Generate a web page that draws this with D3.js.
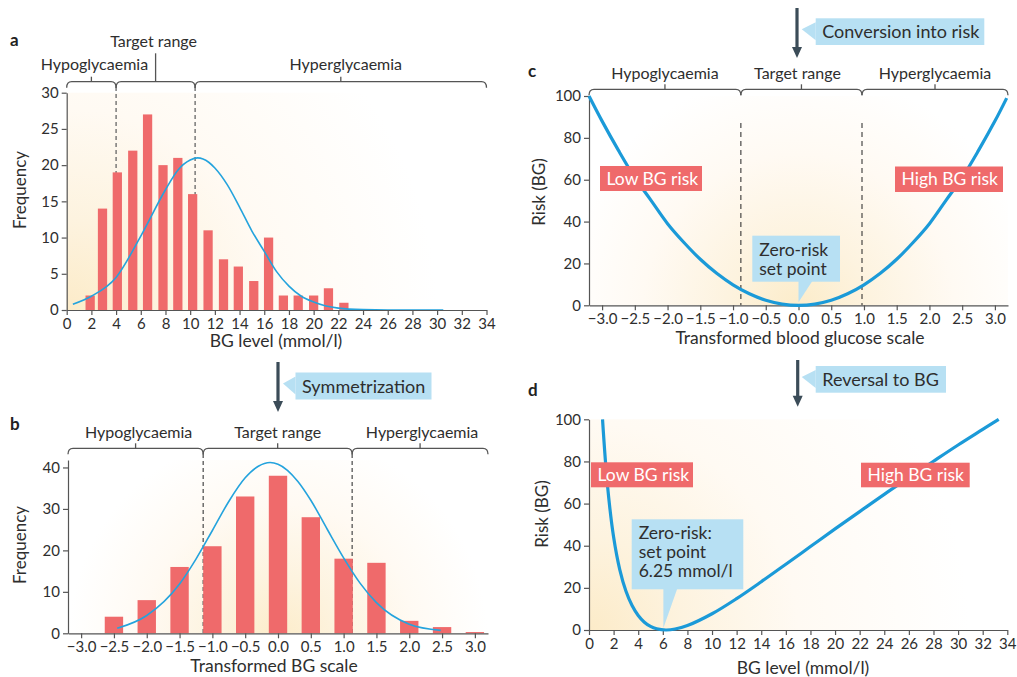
<!DOCTYPE html>
<html>
<head>
<meta charset="utf-8">
<script src="https://cdn.jsdelivr.net/npm/d3@7"></script>
<style>
  body { margin: 0; background: #fff; }
  svg { display: block; }
</style>
</head>
<body>
<svg id="fig" width="1017" height="677"></svg>
<script>
// ---------- data ----------
// a: raw BG histogram (mmol/l) with fitted normal curve
const binsA = [1.9, 2.9, 4.1, 5.35, 6.55, 7.8, 9.0, 10.2, 11.45, 12.7, 13.9, 15.15, 16.35, 17.55, 18.75, 20.0, 21.2, 22.45];
const freqA = [2, 14, 19, 22, 27, 20, 21, 16, 11, 7, 6, 4, 10, 2, 2, 2, 3, 1];
const fitAx = [0.5, 2, 4, 6, 8, 9, 10, 10.6, 11.5, 12, 13, 14, 15, 16, 17, 18, 19, 20, 21, 22, 24, 26, 30.5];
const fitAy = [0.8, 1.9, 4.5, 10.2, 16.6, 19.3, 20.7, 21, 20.4, 19.6, 17.3, 14.2, 10.9, 8.1, 5.3, 3.3, 1.9, 1.1, 0.55, 0.26, 0.05, 0, 0];
const zonesA = [0, 4.0, 10.4, 34];

// b: symmetrized histogram with normal fit
const binsB = [-2.5, -2.0, -1.5, -1.0, -0.5, 0.0, 0.5, 1.0, 1.5, 2.0, 2.5, 3.0];
const freqB = [4, 8, 16, 21, 33, 38, 28, 18, 17, 3, 1.5, 0.3];
const fitBx = [-2.45, -2.0, -1.5, -1.25, -1.0, -0.75, -0.5, -0.3, -0.12, 0.0, 0.3, 0.5, 0.75, 1.0, 1.25, 1.5, 2.0, 2.48];
const fitBy = [1.2, 4.3, 11.9, 17.9, 24.8, 31.8, 37.5, 40.3, 41.2, 40.8, 36.7, 32.1, 25.1, 18.2, 12.1, 7.4, 2.2, 0.7];
const zonesB = [-3.2, -1.14, 1.13, 3.2];

// c: risk on the transformed scale
const riskCx = [-3.2, -3.0, -2.75, -2.5, -2.25, -2.0, -1.75, -1.5, -1.25, -1.0, -0.75, -0.5, -0.25, 0, 0.25, 0.5, 0.75, 1.0, 1.25, 1.5, 1.75, 2.0, 2.25, 2.5, 2.75, 3.0, 3.18];
const riskCy = [100, 88, 74, 61, 50, 39, 30, 22, 15.3, 9.8, 5.5, 2.4, 0.6, 0, 0.6, 2.4, 5.5, 9.8, 15.3, 22, 30, 39, 50, 61, 74, 88, 99];
const zonesC = [-3.2, -0.88, 0.97, 3.2];

// d: risk back on the BG scale (mmol/l)
const riskDx = [1.1, 1.5, 2, 2.5, 3, 3.5, 4, 4.5, 5, 5.5, 6.25, 7, 8, 10, 12, 14, 16, 18, 20, 22, 24, 26, 28, 30, 32, 33.3];
const riskDy = [100, 68.8, 44.1, 28.7, 18.5, 11.6, 6.9, 3.7, 1.7, 0.6, 0, 0.45, 2.1, 7.7, 14.9, 22.9, 31.2, 39.6, 48.0, 56.2, 64.4, 72.3, 80.1, 87.8, 95.2, 100];
const setPoint = 6.25;

// tick values
const ticksBG = [0, 2, 4, 6, 8, 10, 12, 14, 16, 18, 20, 22, 24, 26, 28, 30, 32, 34];
const ticksT = [-3.0, -2.5, -2.0, -1.5, -1.0, -0.5, 0.0, 0.5, 1.0, 1.5, 2.0, 2.5, 3.0];
const ticksFreqA = [0, 5, 10, 15, 20, 25, 30];
const ticksFreqB = [0, 10, 20, 30, 40];
const ticksRisk = [0, 20, 40, 60, 80, 100];
const zoneLabels = ["Hypoglycaemia", "Target range", "Hyperglycaemia"];

// ---------- style ----------
const FONT = "Lato, 'Open Sans', sans-serif";
const TXT = "#2e2e2e";
const AX = "#555";
const BAR = "#ef6a6b";
const CURVE = "#24a3dd";
const CURVE2 = "#1b9ad8";
const CALLOUT = "#b7e0f3";
const ARROW = "#3b4c58";
const ZONE_SIZE = 16;
const TITLE_SIZE = 17.5;

const svg = d3.select("#fig");
const defs = svg.append("defs");

function radial(id, cx, cy, r, stops) {
  const gr = defs.append("radialGradient").attr("id", id)
    .attr("gradientUnits", "userSpaceOnUse")
    .attr("cx", cx).attr("cy", cy).attr("r", r);
  stops.forEach(s => gr.append("stop").attr("offset", s[0]).attr("stop-color", s[1]));
}
const warmStops = [[0, "#fcebc8"], [0.25, "#fdf3df"], [0.55, "#fffaf3"], [1, "#ffffff"]];

function styleAxis(g) {
  g.attr("font-family", FONT).attr("font-size", 15);
  g.select(".domain").attr("stroke", AX).attr("stroke-width", 1.2);
  g.selectAll(".tick line").attr("stroke", AX).attr("stroke-width", 1.2);
  g.selectAll(".tick text").attr("fill", TXT);
}

function text(x, y, s, opts = {}) {
  return svg.append("text").attr("x", x).attr("y", y).text(s)
    .attr("font-family", FONT).attr("font-size", opts.size || 15)
    .attr("font-weight", opts.weight || "normal")
    .attr("fill", opts.fill || TXT)
    .attr("text-anchor", opts.anchor || "start");
}

// curly-ish bracket spanning [x0, x1] at height y with a small centre tick
function brace(x0, x1, y, tickTop) {
  const r = 5;
  svg.append("path")
    .attr("d", `M${x0},${y + 6} Q${x0},${y} ${x0 + r},${y} H${x1 - r} Q${x1},${y} ${x1},${y + 6}`)
    .attr("fill", "none").attr("stroke", AX).attr("stroke-width", 1.3);
  const xc = (x0 + x1) / 2;
  svg.append("line").attr("x1", xc).attr("x2", xc).attr("y1", y).attr("y2", tickTop === undefined ? y - 5 : tickTop)
    .attr("stroke", AX).attr("stroke-width", 1.3);
  return xc;
}

function arrow(x, y0, y1) {
  svg.append("line").attr("x1", x).attr("x2", x).attr("y1", y0).attr("y2", y1 - 8)
    .attr("stroke", ARROW).attr("stroke-width", 3.2);
  svg.append("path").attr("d", `M${x - 5},${y1 - 11} L${x + 5},${y1 - 11} L${x},${y1} Z`).attr("fill", ARROW);
}

// label box with a pointer on its left side
function sideCallout(bx, by, bw, bh, tipX, label) {
  svg.append("path")
    .attr("d", `M${bx},${by + 4} L${tipX},${by + 11} L${bx},${by + 22} Z`).attr("fill", CALLOUT);
  svg.append("rect").attr("x", bx).attr("y", by).attr("width", bw).attr("height", bh).attr("fill", CALLOUT);
  text(bx + 6.5, by + bh / 2 + 6.5, label, { size: 18 });
}

// label box with a pointer hanging from its bottom edge to (tx, ty)
function downCallout(bx, by, bw, bh, tx, ty, lines) {
  svg.append("rect").attr("x", bx).attr("y", by).attr("width", bw).attr("height", bh).attr("fill", CALLOUT);
  svg.append("path")
    .attr("d", `M${tx},${by + bh - 1} L${tx + 14},${by + bh - 1} L${tx},${ty} Z`).attr("fill", CALLOUT);
  lines.forEach((l, i) => text(bx + 7, by + 20 + i * 19, l, { size: 17.5 }));
}

function riskBox(x, y, w, h, label) {
  svg.append("rect").attr("x", x).attr("y", y).attr("width", w).attr("height", h).attr("fill", BAR);
  text(x + 6.5, y + h / 2 + 6, label, { size: 17.5, fill: "#fff" });
}

// ================= Panel a =================
{
  const x = d3.scaleLinear().domain([0, 34]).range([66.7, 486.5]);
  const y = d3.scaleLinear().domain([0, 30]).range([310, 92.7]);

  radial("gA", 67, 312, 370, warmStops);
  svg.append("rect").attr("x", x(0)).attr("y", y(30)).attr("width", x(34) - x(0)).attr("height", y(0) - y(30))
    .attr("fill", "url(#gA)");

  zonesA.slice(1, 3).forEach(v => svg.append("line")
    .attr("x1", x(v)).attr("x2", x(v)).attr("y1", 87).attr("y2", y(0))
    .attr("stroke", "#666").attr("stroke-width", 1.3).attr("stroke-dasharray", "4,3"));

  const bw = 0.75;
  svg.append("g").selectAll("rect").data(binsA).join("rect")
    .attr("x", (d) => x(d - bw / 2)).attr("width", x(bw) - x(0))
    .attr("y", (d, i) => y(freqA[i])).attr("height", (d, i) => y(0) - y(freqA[i]))
    .attr("fill", BAR);

  svg.append("path").datum(fitAx.map((v, i) => [v, fitAy[i]]))
    .attr("d", d3.line().x(d => x(d[0])).y(d => y(d[1])).curve(d3.curveMonotoneX))
    .attr("fill", "none").attr("stroke", CURVE).attr("stroke-width", 1.6);

  const gx = svg.append("g").attr("transform", `translate(0,${y(0)})`)
    .call(d3.axisBottom(x).tickValues(ticksBG).tickSize(5).tickPadding(3).tickSizeOuter(0));
  styleAxis(gx);
  const gy = svg.append("g").attr("transform", `translate(${x(0)},0)`)
    .call(d3.axisLeft(y).tickValues(ticksFreqA).tickSize(5).tickPadding(3).tickSizeOuter(0));
  styleAxis(gy);

  const by = 81.7;
  const c0 = brace(x(zonesA[0]), x(zonesA[1]), by);
  const c1 = brace(x(zonesA[1]), x(zonesA[2]), by, 53.3);
  const c2 = brace(x(zonesA[2]), x(zonesA[3]), by);
  text(c0 + 3, 70, zoneLabels[0], { anchor: "middle", size: ZONE_SIZE });
  text(c1 - 2, 47, zoneLabels[1], { anchor: "middle", size: ZONE_SIZE });
  text(c2 + 5, 70, zoneLabels[2], { anchor: "middle", size: ZONE_SIZE });

  text(10, 46, "a", { size: 17, weight: "bold", fill: "#222" });
  text(276, 347, "BG level (mmol/l)", { size: TITLE_SIZE, anchor: "middle" });
  text(0, 0, "Frequency", { size: 17, anchor: "middle" }).attr("transform", "translate(26,190) rotate(-90)");
}

// ================= Panel b =================
{
  const x = d3.scaleLinear().domain([-3.2, 3.2]).range([68, 488]);
  const y = d3.scaleLinear().domain([0, 41.8]).range([633.3, 460]);

  radial("gB", x(0), 640, 210, [[0, "#fcecc9"], [0.3, "#fdf3df"], [0.65, "#fffaf3"], [1, "#ffffff"]]);
  svg.append("rect").attr("x", x(-3.2)).attr("y", y(41.8)).attr("width", x(3.2) - x(-3.2)).attr("height", y(0) - y(41.8))
    .attr("fill", "url(#gB)");

  zonesB.slice(1, 3).forEach(v => svg.append("line")
    .attr("x1", x(v)).attr("x2", x(v)).attr("y1", 454).attr("y2", y(0))
    .attr("stroke", "#555").attr("stroke-width", 1.3).attr("stroke-dasharray", "4,3"));

  const bw = 0.28;
  svg.append("g").selectAll("rect").data(binsB).join("rect")
    .attr("x", (d) => x(d - bw / 2)).attr("width", x(bw) - x(0))
    .attr("y", (d, i) => y(freqB[i])).attr("height", (d, i) => y(0) - y(freqB[i]))
    .attr("fill", BAR);

  svg.append("path").datum(fitBx.map((v, i) => [v, fitBy[i]]))
    .attr("d", d3.line().x(d => x(d[0])).y(d => y(d[1])).curve(d3.curveMonotoneX))
    .attr("fill", "none").attr("stroke", CURVE).attr("stroke-width", 1.6);

  const gx = svg.append("g").attr("transform", `translate(0,${y(0)})`)
    .call(d3.axisBottom(x).tickValues(ticksT).tickFormat(d3.format(".1f")).tickSize(5).tickPadding(3).tickSizeOuter(0));
  styleAxis(gx);
  const gy = svg.append("g").attr("transform", `translate(${x(-3.2)},0)`)
    .call(d3.axisLeft(y).tickValues(ticksFreqB).tickSize(5).tickPadding(3).tickSizeOuter(0));
  styleAxis(gy);

  const by = 448.3;
  const c0 = brace(x(zonesB[0]), x(zonesB[1]), by);
  const c1 = brace(x(zonesB[1]), x(zonesB[2]), by);
  const c2 = brace(x(zonesB[2]), x(zonesB[3]), by);
  text(c0 + 3, 438, zoneLabels[0], { anchor: "middle", size: ZONE_SIZE });
  text(c1, 438, zoneLabels[1], { anchor: "middle", size: ZONE_SIZE });
  text(c2 + 2, 438, zoneLabels[2], { anchor: "middle", size: ZONE_SIZE });

  // transition from panel a
  arrow(x(0), 362, 412);
  sideCallout(295.5, 372.5, 136, 27, 283, "Symmetrization");

  text(10, 430, "b", { size: 17, weight: "bold", fill: "#222" });
  text(274, 672, "Transformed BG scale", { size: TITLE_SIZE, anchor: "middle" });
  text(0, 0, "Frequency", { size: 17, anchor: "middle" }).attr("transform", "translate(26,545) rotate(-90)");
}

// ================= Panel c =================
{
  const x = d3.scaleLinear().domain([-3.2, 3.2]).range([589, 1008]);
  const y = d3.scaleLinear().domain([0, 100]).range([305.3, 96]);

  radial("gC", x(0), 310, 240, [[0, "#fcecc9"], [0.3, "#fdf3df"], [0.65, "#fffaf3"], [1, "#ffffff"]]);
  svg.append("rect").attr("x", x(-3.2)).attr("y", y(100)).attr("width", x(3.2) - x(-3.2)).attr("height", y(0) - y(100))
    .attr("fill", "url(#gC)");

  zonesC.slice(1, 3).forEach(v => svg.append("line")
    .attr("x1", x(v)).attr("x2", x(v)).attr("y1", 123).attr("y2", y(0))
    .attr("stroke", "#222").attr("stroke-width", 1).attr("stroke-dasharray", "5,4"));

  const gx = svg.append("g").attr("transform", `translate(0,${y(0)})`)
    .call(d3.axisBottom(x).tickValues(ticksT).tickFormat(d3.format(".1f")).tickSize(5).tickPadding(3).tickSizeOuter(0));
  styleAxis(gx);
  const gy = svg.append("g").attr("transform", `translate(${x(-3.2)},0)`)
    .call(d3.axisLeft(y).tickValues(ticksRisk).tickSize(5).tickPadding(3).tickSizeOuter(0));
  styleAxis(gy);

  svg.append("path").datum(riskCx.map((v, i) => [v, riskCy[i]]))
    .attr("d", d3.line().x(d => x(d[0])).y(d => y(d[1])).curve(d3.curveCatmullRom))
    .attr("fill", "none").attr("stroke", CURVE2).attr("stroke-width", 3.2);

  const by = 89.3;
  const c0 = brace(x(zonesC[0]), x(zonesC[1]), by);
  const c1 = brace(x(zonesC[1]), x(zonesC[2]), by);
  const c2 = brace(x(zonesC[2]), x(zonesC[3]), by);
  text(c0, 79, zoneLabels[0], { anchor: "middle", size: ZONE_SIZE });
  text(c1 - 4, 79, zoneLabels[1], { anchor: "middle", size: ZONE_SIZE });
  text(c2, 79, zoneLabels[2], { anchor: "middle", size: ZONE_SIZE });

  riskBox(600, 166, 102, 25, "Low BG risk");
  riskBox(895, 166.5, 108, 25.5, "High BG risk");
  downCallout(752.3, 235.7, 87.7, 46, x(0), y(0) - 3, ["Zero-risk", "set point"]);

  // transition from panel b
  arrow(x(0) - 1.5, 8, 58);
  sideCallout(815.7, 18.3, 168.6, 26.7, 801.7, "Conversion into risk");

  text(528, 77, "c", { size: 17, weight: "bold", fill: "#222" });
  text(800, 344, "Transformed blood glucose scale", { size: TITLE_SIZE, anchor: "middle" });
  text(0, 0, "Risk (BG)", { size: 17, anchor: "middle" }).attr("transform", "translate(545,192) rotate(-90)");
}

// ================= Panel d =================
{
  const x = d3.scaleLinear().domain([0, 34]).range([589, 1007.3]);
  const y = d3.scaleLinear().domain([0, 100]).range([630, 419.3]);

  radial("gD", x(0), 632, 380, warmStops);
  svg.append("rect").attr("x", x(0)).attr("y", y(100)).attr("width", x(34) - x(0)).attr("height", y(0) - y(100))
    .attr("fill", "url(#gD)");

  const gx = svg.append("g").attr("transform", `translate(0,${y(0)})`)
    .call(d3.axisBottom(x).tickValues(ticksBG).tickSize(5).tickPadding(3).tickSizeOuter(0));
  styleAxis(gx);
  const gy = svg.append("g").attr("transform", `translate(${x(0)},0)`)
    .call(d3.axisLeft(y).tickValues(ticksRisk).tickSize(5).tickPadding(3).tickSizeOuter(0));
  styleAxis(gy);

  svg.append("path").datum(riskDx.map((v, i) => [v, riskDy[i]]))
    .attr("d", d3.line().x(d => x(d[0])).y(d => y(d[1])).curve(d3.curveCatmullRom))
    .attr("fill", "none").attr("stroke", CURVE2).attr("stroke-width", 3.2);

  riskBox(591, 462.3, 102, 25, "Low BG risk");
  riskBox(861, 462.7, 108.7, 24.6, "High BG risk");
  downCallout(631.7, 519.3, 111.6, 70, x(setPoint) - 2.5, y(0) - 2, ["Zero-risk:", "set point", "6.25 mmol/l"]);

  // transition from panel c
  arrow(797.7, 360, 406.7);
  sideCallout(815.7, 366, 130.3, 26.7, 801.7, "Reversal to BG");

  text(528, 396, "d", { size: 17, weight: "bold", fill: "#222" });
  text(803, 674, "BG level (mmol/l)", { size: TITLE_SIZE, anchor: "middle" });
  text(0, 0, "Risk (BG)", { size: 17, anchor: "middle" }).attr("transform", "translate(548,514) rotate(-90)");
}
</script>
</body>
</html>
